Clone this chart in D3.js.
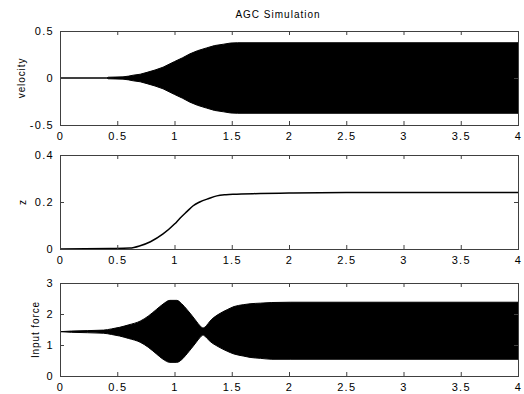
<!DOCTYPE html>
<html>
<head>
<meta charset="utf-8">
<script src="https://cdn.jsdelivr.net/npm/d3@7"></script>
<style>
  body { margin: 0; background: #fff; }
  svg { display: block; }
  text { font-family: "Liberation Sans", Arial, sans-serif; fill: #000; }
</style>
</head>
<body>
<svg id="chart" width="524" height="394"></svg>
<script>
// Envelopes (oscillation too dense to see, drawn filled)
const velTime = [0, 0.41, 0.42, 0.55, 0.60, 0.64, 0.70, 0.76, 0.83, 0.90, 1.0, 1.07, 1.135, 1.2, 1.28, 1.35, 1.43, 1.49, 1.55, 4.0];
const velAmp  = [0, 0, 0.008, 0.012, 0.02, 0.03, 0.04, 0.06, 0.085, 0.115, 0.175, 0.215, 0.257, 0.29, 0.32, 0.345, 0.36, 0.372, 0.375, 0.375];

const zTime = [0, 0.44, 0.61, 0.70, 0.79, 0.90, 1.0, 1.05, 1.11, 1.16, 1.22, 1.30, 1.37, 1.45, 1.51, 1.75, 2.0, 2.5, 4.0];
const zVal  = [0, 0.002, 0.004, 0.014, 0.031, 0.064, 0.106, 0.132, 0.16, 0.183, 0.20, 0.215, 0.226, 0.231, 0.233, 0.236, 0.238, 0.24, 0.24];

const forceTime  = [0, 0.1, 0.38, 0.45, 0.52, 0.6, 0.7, 0.77, 0.84, 0.9, 0.96, 1.02, 1.06, 1.11, 1.15, 1.19, 1.22, 1.25, 1.28, 1.31, 1.38, 1.46, 1.52, 1.60, 1.66, 1.75, 1.85, 2.01, 4.0];
const forceUpper = [1.43, 1.45, 1.48, 1.52, 1.57, 1.65, 1.77, 1.93, 2.14, 2.32, 2.44, 2.44, 2.34, 2.14, 1.96, 1.77, 1.63, 1.55, 1.63, 1.77, 1.98, 2.14, 2.24, 2.30, 2.33, 2.35, 2.37, 2.38, 2.38];
const forceLower = [1.43, 1.41, 1.38, 1.34, 1.29, 1.21, 1.09, 0.93, 0.72, 0.54, 0.44, 0.44, 0.52, 0.72, 0.90, 1.09, 1.23, 1.32, 1.23, 1.12, 0.95, 0.80, 0.71, 0.645, 0.60, 0.57, 0.54, 0.54, 0.54];

const xTicks = [0, 0.5, 1, 1.5, 2, 2.5, 3, 3.5, 4];
const velTicks = [-0.5, 0, 0.5];
const zTicks = [0, 0.2, 0.4];
const forceTicks = [0, 1, 2, 3];

const svg = d3.select('#chart');
const left = 60, right = 518;
const axColor = '#404040';

const x = d3.scaleLinear().domain([0, 4]).range([left, right]);

// one subplot: box, inward ticks on all four sides, labels left/bottom
function panel(top, bottom, yDomain, yTicks, yLabel, yLabelX) {
  const y = d3.scaleLinear().domain(yDomain).range([bottom, top]);
  const g = svg.append('g');

  const fmt = d => String(d);

  g.append('g')
    .attr('transform', `translate(0,${bottom})`)
    .call(d3.axisBottom(x).tickValues(xTicks).tickFormat(fmt).tickSize(-4).tickSizeOuter(0).tickPadding(7));
  g.append('g')
    .attr('transform', `translate(0,${top})`)
    .call(d3.axisTop(x).tickValues(xTicks).tickFormat('').tickSize(-4).tickSizeOuter(0));
  g.append('g')
    .attr('transform', `translate(${left},0)`)
    .call(d3.axisLeft(y).tickValues(yTicks).tickFormat(fmt).tickSize(-4).tickSizeOuter(0).tickPadding(6));
  g.append('g')
    .attr('transform', `translate(${right},0)`)
    .call(d3.axisRight(y).tickValues(yTicks).tickFormat('').tickSize(-4).tickSizeOuter(0));

  g.selectAll('.domain').remove();
  g.selectAll('.tick line').attr('stroke', axColor);
  g.selectAll('.tick text')
    .style('font-family', '"Liberation Sans", Arial, sans-serif')
    .style('font-size', '11px')
    .style('letter-spacing', '1.3px')
    .attr('fill', '#000');

  g.append('text')
    .attr('transform', `translate(${yLabelX},${(top + bottom) / 2}) rotate(-90)`)
    .attr('text-anchor', 'middle')
    .style('font-size', '10px')
    .style('letter-spacing', '0.9px')
    .text(yLabel);

  return { g, y, top, bottom };
}

function box(p) {
  p.g.append('rect')
    .attr('x', left + 0.5).attr('y', p.top + 0.5)
    .attr('width', right - left).attr('height', p.bottom - p.top)
    .attr('fill', 'none').attr('stroke', axColor).attr('stroke-width', 1);
}

// velocity
const p1 = panel(31, 125, [-0.5, 0.5], velTicks, 'velocity', 25);
const velData = velTime.map((t, i) => ({ t, a: velAmp[i] }));
p1.g.insert('path', ':first-child')
  .datum(velData)
  .attr('d', d3.area().x(d => x(d.t)).y0(d => p1.y(-d.a)).y1(d => p1.y(d.a)).curve(d3.curveLinear))
  .attr('fill', '#000').attr('stroke', '#000').attr('stroke-width', 1);
box(p1);

// z
const p2 = panel(155, 249, [0, 0.4], zTicks, 'z', 26);
const zData = zTime.map((t, i) => ({ t, v: zVal[i] }));
p2.g.insert('path', ':first-child')
  .datum(zData)
  .attr('d', d3.line().x(d => x(d.t)).y(d => p2.y(d.v)).curve(d3.curveMonotoneX))
  .attr('fill', 'none').attr('stroke', '#000').attr('stroke-width', 1.5);
box(p2);

// input force
const p3 = panel(283, 376, [0, 3], forceTicks, 'Input force', 39);
const fData = forceTime.map((t, i) => ({ t, hi: forceUpper[i], lo: forceLower[i] }));
p3.g.insert('path', ':first-child')
  .datum(fData)
  .attr('d', d3.area().x(d => x(d.t)).y0(d => p3.y(d.lo)).y1(d => p3.y(d.hi)).curve(d3.curveMonotoneX))
  .attr('fill', '#000').attr('stroke', '#000').attr('stroke-width', 1);
box(p3);

// title
svg.append('text')
  .attr('x', 278).attr('y', 18)
  .attr('text-anchor', 'middle')
  .style('font-size', '10px')
  .style('letter-spacing', '1px')
  .text('AGC Simulation');
</script>
</body>
</html>
